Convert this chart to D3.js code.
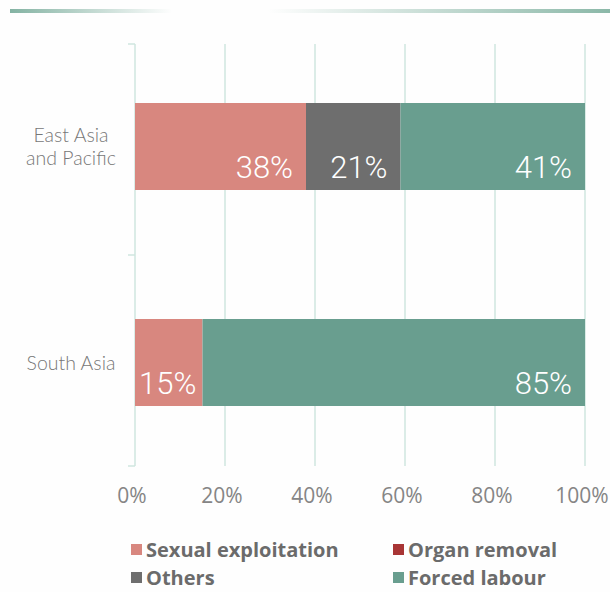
<!DOCTYPE html>
<html>
<head>
<meta charset="utf-8">
<script src="https://cdn.jsdelivr.net/npm/d3@7"></script>
<style>
  html, body { margin: 0; padding: 0; background: #fefefe; }
  svg { display: block; }
</style>
</head>
<body>
<svg id="chart" width="610" height="592"></svg>
<script>
// Regions shown as horizontal stacked bars
const regions = ["East Asia\nand Pacific", "South Asia"];
const seriesNames = ["Sexual exploitation", "Organ removal", "Others", "Forced labour"];
const sexualExploitation = [38, 15];
const organRemoval = [0, 0];
const others = [21, 0];
const forcedLabour = [41, 85];
const tickValues = [0, 20, 40, 60, 80, 100];
const tickLabels = ["0%", "20%", "40%", "60%", "80%", "100%"];
const colours = ["#d8877f", "#a83535", "#6e6e6e", "#699e8f"];

const rows = regions.map((r, i) => ({
  region: r,
  "Sexual exploitation": sexualExploitation[i],
  "Organ removal": organRemoval[i],
  "Others": others[i],
  "Forced labour": forcedLabour[i]
}));

const svg = d3.select("#chart");
const margin = { left: 135, right: 25, top: 44, bottom: 126 };
const W = 610, H = 592;

const x = d3.scaleLinear().domain([0, 100]).range([margin.left, W - margin.right]);
const y = d3.scaleBand().domain(regions).range([margin.top, H - margin.bottom]).paddingInner(0).paddingOuter(0);
const color = d3.scaleOrdinal().domain(seriesNames).range(colours);

// Header rule with faded centre
const defs = svg.append("defs");
const grad = defs.append("linearGradient").attr("id", "rule").attr("x1", "0").attr("x2", "1");
grad.append("stop").attr("offset", "0").attr("stop-color", "#84b3a3");
grad.append("stop").attr("offset", "0.27").attr("stop-color", "#fefefe");
grad.append("stop").attr("offset", "0.43").attr("stop-color", "#fefefe");
grad.append("stop").attr("offset", "1").attr("stop-color", "#8bb8a8");
svg.append("rect").attr("x", 10).attr("y", 9).attr("width", 600).attr("height", 4).attr("fill", "url(#rule)");

// Vertical gridlines
const gridColor = "#cfe6df";
svg.append("g").selectAll("line").data(tickValues).join("line")
  .attr("x1", d => x(d)).attr("x2", d => x(d))
  .attr("y1", margin.top).attr("y2", H - margin.bottom)
  .attr("stroke", gridColor).attr("stroke-width", 1.5);

// Category ticks on the left axis
const bandEdges = [margin.top, ...regions.map(r => y(r) + y.bandwidth())];
svg.append("g").selectAll("line").data(bandEdges).join("line")
  .attr("x1", x(0) - 7).attr("x2", x(0))
  .attr("y1", d => d).attr("y2", d => d)
  .attr("stroke", gridColor).attr("stroke-width", 1.5);

// Stacked bars
const stack = d3.stack().keys(seriesNames);
const stacked = stack(rows);
const barH = 87;
const barOffset = (y.bandwidth() - barH) / 2;
const barTop = i => y(regions[i]) + barOffset + (i === 0 ? -3 : 2);

const layers = svg.append("g").selectAll("g").data(stacked).join("g")
  .attr("fill", d => color(d.key));
layers.selectAll("rect").data(d => d).join("rect")
  .attr("x", d => x(d[0]))
  .attr("y", (d, i) => barTop(i))
  .attr("width", d => x(d[1]) - x(d[0]))
  .attr("height", barH);

// Value labels inside segments, right-aligned, kept inside narrow segments
const labelData = [];
stacked.forEach(layer => {
  layer.forEach((d, i) => {
    const v = d[1] - d[0];
    if (v > 0) labelData.push({ v, start: d[0], end: d[1], i });
  });
});
svg.append("g").selectAll("text").data(labelData).join("text")
  .attr("y", d => barTop(d.i) + barH - 12)
  .attr("text-anchor", "end")
  .attr("fill", "#ffffff")
  .style("font-family", "Roboto, sans-serif")
  .style("font-weight", 300)
  .style("font-size", "31px")
  .text(d => d.v + "%")
  .attr("x", function (d) {
    const w = this.getComputedTextLength();
    return Math.max(x(d.end) - 13, x(d.start) + 4 + w);
  });

// Category labels, one text element per line
const catG = svg.append("g");
regions.forEach((r, i) => {
  const lines = r.split("\n");
  const cy = barTop(i) + barH / 2;
  lines.forEach((ln, k) => {
    catG.append("text")
      .attr("x", 71)
      .attr("y", cy + 7 + (k - (lines.length - 1) / 2) * 23)
      .attr("text-anchor", "middle")
      .attr("fill", "#777777")
      .style("font-family", "Lato, sans-serif")
      .style("font-weight", 300)
      .style("font-size", "19.5px")
      .text(ln);
  });
});

// X axis tick labels
svg.append("g").selectAll("text").data(tickValues).join("text")
  .attr("x", d => x(d) - 3)
  .attr("y", 503)
  .attr("text-anchor", "middle")
  .attr("fill", "#858585")
  .style("font-family", "'Open Sans', sans-serif")
  .style("font-weight", 400)
  .style("font-size", "21px")
  .text((d, i) => tickLabels[i]);

// Legend
const legendPos = [[131, 550], [393, 550], [131, 578], [393, 578]];
const legendOrder = ["Sexual exploitation", "Organ removal", "Others", "Forced labour"];
const lg = svg.append("g").selectAll("g").data(legendOrder).join("g")
  .attr("transform", (d, i) => `translate(${legendPos[i][0]},${legendPos[i][1]})`);
lg.append("rect").attr("x", 0).attr("y", -6).attr("width", 11).attr("height", 11)
  .attr("fill", d => color(d));
lg.append("text").attr("x", 15).attr("y", 7)
  .attr("fill", "#6b6b6b")
  .style("font-family", "'Open Sans', sans-serif")
  .style("font-weight", 700)
  .style("font-size", "20px")
  .text(d => d);
</script>
</body>
</html>
